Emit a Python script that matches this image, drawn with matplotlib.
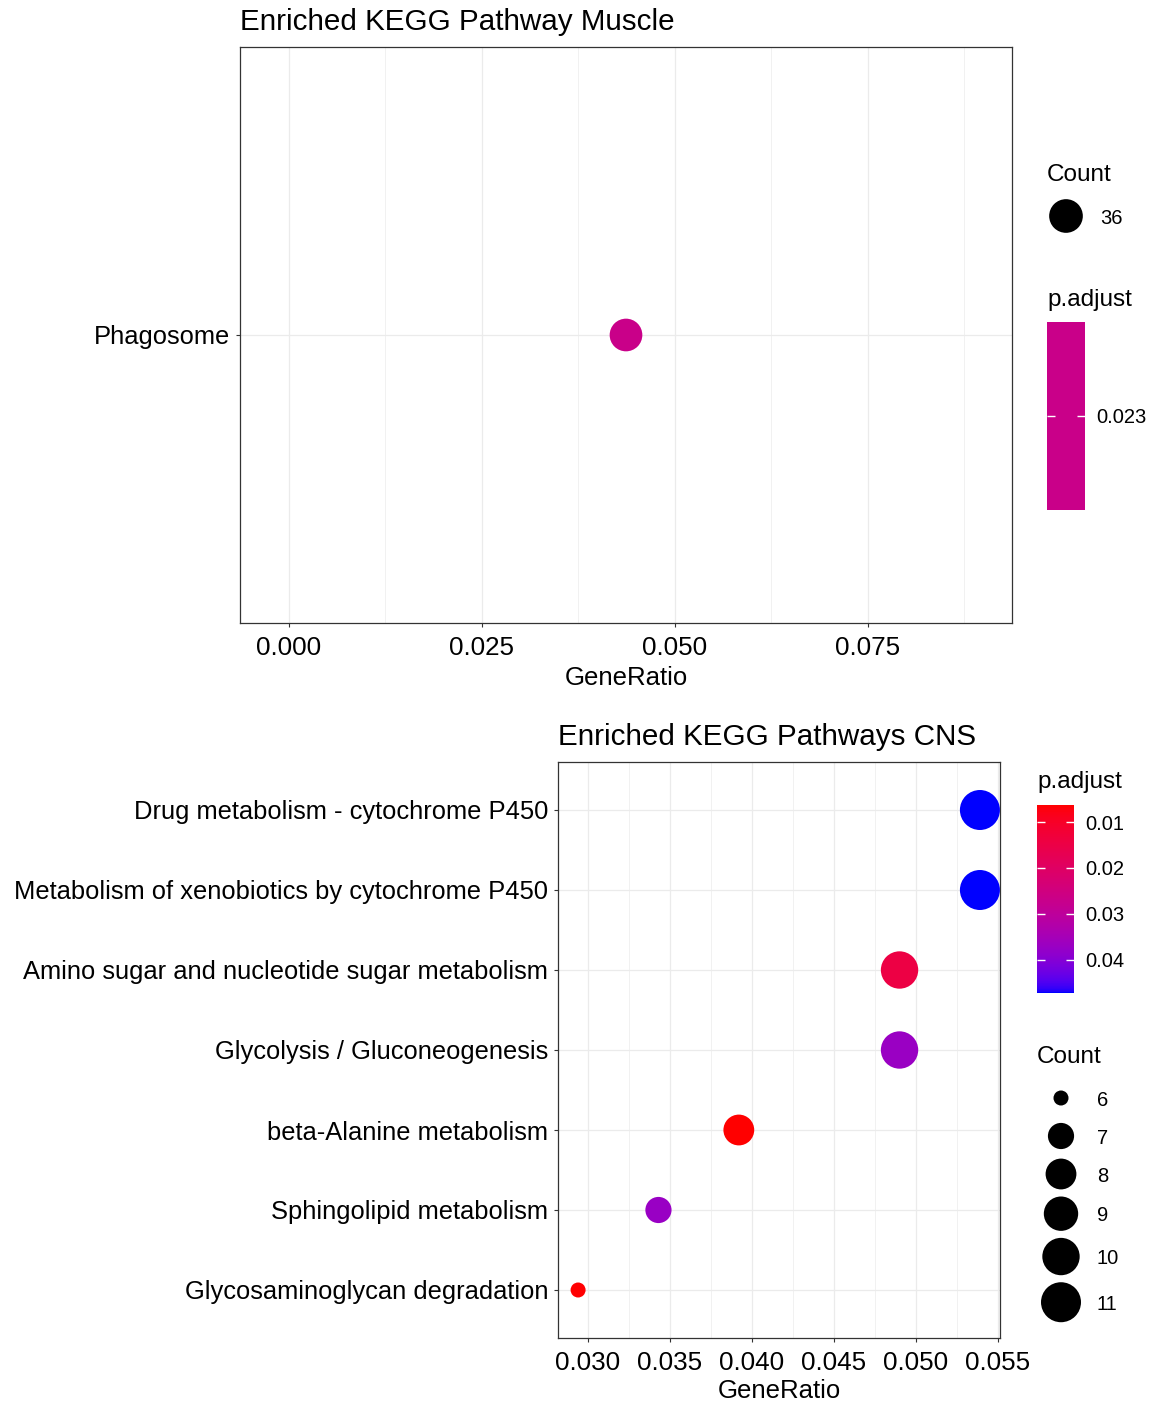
import numpy as np
import matplotlib
matplotlib.use("Agg")
import matplotlib.pyplot as plt
from matplotlib.colors import ListedColormap, Normalize
from matplotlib.cm import ScalarMappable
from matplotlib.ticker import MultipleLocator

plt.rcParams['font.family'] = ['Liberation Sans', 'DejaVu Sans']

# ---- data: muscle ----
muscle_terms = ["Phagosome"]
muscle_ratio = [0.0437]
muscle_count = [36]
muscle_padj = [0.023]

# ---- data: CNS (top to bottom) ----
cns_terms = ["Drug metabolism - cytochrome P450",
             "Metabolism of xenobiotics by cytochrome P450",
             "Amino sugar and nucleotide sugar metabolism",
             "Glycolysis / Gluconeogenesis",
             "beta-Alanine metabolism",
             "Sphingolipid metabolism",
             "Glycosaminoglycan degradation"]
cns_ratio = [0.0539, 0.0539, 0.0490, 0.0490, 0.0392, 0.0343, 0.0294]
cns_count = [11, 11, 10, 10, 8, 7, 6]
cns_padj = [0.0472, 0.0472, 0.0145, 0.0370, 0.0063, 0.0372, 0.0066]
cns_count_legend = [6, 7, 8, 9, 10, 11]
cns_padj_ticks = [0.01, 0.02, 0.03, 0.04]

W, H, DPI = 1158, 1408, 100
GRID = "#EBEBEB"
DARK = "#333333"


# red -> blue ramp interpolated in CIELAB, like ggplot's gradient
def srgb_to_lab(rgb):
    c = np.asarray(rgb, float)
    lin = np.where(c <= 0.04045, c / 12.92, ((c + 0.055) / 1.055) ** 2.4)
    M = np.array([[0.4124564, 0.3575761, 0.1804375],
                  [0.2126729, 0.7151522, 0.0721750],
                  [0.0193339, 0.1191920, 0.9503041]])
    xyz = M @ lin / np.array([0.95047, 1.0, 1.08883])
    d = 6 / 29
    f = np.where(xyz > d ** 3, np.cbrt(xyz), xyz / (3 * d * d) + 4 / 29)
    return np.array([116 * f[1] - 16, 500 * (f[0] - f[1]), 200 * (f[1] - f[2])])


def lab_to_srgb(lab):
    L, a, b = lab
    fy = (L + 16) / 116
    fx = fy + a / 500
    fz = fy - b / 200
    d = 6 / 29
    fs = np.array([fx, fy, fz])
    xyz = np.where(fs > d, fs ** 3, 3 * d * d * (fs - 4 / 29))
    xyz = xyz * np.array([0.95047, 1.0, 1.08883])
    Minv = np.array([[3.2404542, -1.5371385, -0.4985314],
                     [-0.9692660, 1.8760108, 0.0415560],
                     [0.0556434, -0.2040259, 1.0572252]])
    lin = np.clip(Minv @ xyz, 0, 1)
    c = np.where(lin <= 0.0031308, 12.92 * lin, 1.055 * lin ** (1 / 2.4) - 0.055)
    return np.clip(c, 0, 1)


lab_lo = srgb_to_lab([1, 0, 0])
lab_hi = srgb_to_lab([0, 0, 1])
ramp = [lab_to_srgb(lab_lo + t * (lab_hi - lab_lo)) for t in np.linspace(0, 1, 256)]
cmap = ListedColormap(ramp)


def px_d(count, cmin, cmax):
    # ggplot scale_size(range=c(3, 8)) area palette, ~5 px per mm
    if cmax == cmin:
        r = 0.5
    else:
        r = (count - cmin) / (cmax - cmin)
    return 5 * (3 + 5 * np.sqrt(r))


def pts_area(d_px):
    return (d_px * 72 / DPI) ** 2


def style_panel(ax):
    ax.set_facecolor("white")
    for s in ax.spines.values():
        s.set_color(DARK)
        s.set_linewidth(0.9)
    ax.grid(which="major", color=GRID, linewidth=0.9)
    ax.grid(which="minor", axis="x", color=GRID, linewidth=0.5)
    ax.set_axisbelow(True)
    ax.tick_params(which="major", length=3, width=0.8, color=DARK,
                   labelsize=18.7, labelcolor="black", pad=4)
    ax.tick_params(axis="y", which="major", labelsize=18.4)
    ax.tick_params(axis="x", which="major", pad=6.5)
    ax.tick_params(which="minor", length=0)


def make_cbar(fig, rect, cm, norm, ticks, labels):
    cax = fig.add_axes(rect)
    cb = fig.colorbar(ScalarMappable(norm=norm, cmap=cm), cax=cax)
    cb.outline.set_visible(False)
    cb.set_ticks(ticks)
    cb.set_ticklabels(labels)
    cax.invert_yaxis()
    cax.yaxis.set_ticks_position("both")
    cax.tick_params(axis="y", direction="in", color="white", length=5.5,
                    width=1.0, labelsize=14.5, labelcolor="black", pad=8,
                    labelleft=False, labelright=True)
    return cb


def fx(x):
    return x / W


def fy(y):
    return 1 - y / H


fig = plt.figure(figsize=(W / DPI, H / DPI), dpi=DPI)

# ---------------- top panel: Muscle ----------------
ax1 = fig.add_axes([fx(240), fy(623), (1012 - 240) / W, 576 / H])
style_panel(ax1)
m_norm = Normalize(muscle_padj[0] - 0.001, muscle_padj[0] + 0.001)
m_col = cmap(0.5)
m_cmap = ListedColormap([m_col])
ax1.scatter(muscle_ratio, [0], s=[pts_area(px_d(c, min(muscle_count), max(muscle_count)))
                                   for c in muscle_count],
            color=m_col, edgecolors="none", zorder=3)
ax1.set_yticks([0])
ax1.set_yticklabels(muscle_terms)
ax1.set_ylim(-0.6, 0.6)
ax1.set_xlim(muscle_ratio[0] - 0.05, muscle_ratio[0] + 0.05)
ax1.xaxis.set_major_locator(MultipleLocator(0.025))
ax1.xaxis.set_minor_locator(MultipleLocator(0.0125))
ax1.xaxis.set_major_formatter(lambda v, p: f"{v:.3f}")
ax1.set_xlabel("GeneRatio", fontsize=18.5, labelpad=4)
ax1.set_title("Enriched KEGG Pathway Muscle", loc="left", fontsize=21.3, pad=12.5)

make_cbar(fig, [fx(1047), fy(510), 38 / W, 188 / H], m_cmap, m_norm,
          muscle_padj, [f"{v:.3f}" for v in muscle_padj])

# ---------------- bottom panel: CNS ----------------
ax2 = fig.add_axes([fx(558), fy(1338), (1000 - 558) / W, 576 / H])
style_panel(ax2)
n = len(cns_terms)
ypos = np.arange(n)[::-1]
c_norm = Normalize(min(cns_padj), max(cns_padj))
ax2.scatter(cns_ratio, ypos,
            s=[pts_area(px_d(c, min(cns_count), max(cns_count))) for c in cns_count],
            c=cns_padj, cmap=cmap, norm=c_norm, edgecolors="none", zorder=3)
ax2.set_yticks(ypos)
ax2.set_yticklabels(cns_terms)
ax2.set_ylim(-0.6, n - 0.4)
span = max(cns_ratio) - min(cns_ratio)
ax2.set_xlim(min(cns_ratio) - 0.05 * span, max(cns_ratio) + 0.05 * span)
ax2.xaxis.set_major_locator(MultipleLocator(0.005))
ax2.xaxis.set_minor_locator(MultipleLocator(0.0025))
ax2.xaxis.set_major_formatter(lambda v, p: f"{v:.3f}")
ax2.set_xlabel("GeneRatio", fontsize=18.5, labelpad=3)
ax2.set_title("Enriched KEGG Pathways CNS", loc="left", fontsize=21.3, pad=12.5)

make_cbar(fig, [fx(1037), fy(993), 37 / W, 188 / H], cmap, c_norm,
          cns_padj_ticks, [f"{v:.2f}" for v in cns_padj_ticks])

# ---------------- legends (size keys + titles) ----------------
lg = fig.add_axes([0, 0, 1, 1])
lg.set_xlim(0, W)
lg.set_ylim(H, 0)
lg.axis("off")

lg.text(1047, 175, "Count", fontsize=17.5, va="center", ha="left")
lg.text(1047, 300, "p.adjust", fontsize=17.5, va="center", ha="left")
lg.scatter([1066], [216], s=pts_area(px_d(muscle_count[0], 0, 0) + 1),
           color="black", edgecolors="none")
lg.text(1100, 218, str(muscle_count[0]), fontsize=14.5, va="center", ha="left")

lg.text(1037, 782, "p.adjust", fontsize=17.5, va="center", ha="left")
lg.text(1037, 1057, "Count", fontsize=17.5, va="center", ha="left")
yc = 1098
prev_h = None
for c in cns_count_legend:
    d = px_d(c, min(cns_count), max(cns_count))
    kh = max(d + 7, 38)
    if prev_h is not None:
        yc += (prev_h + kh) / 2
    prev_h = kh
    lg.scatter([1061], [yc], s=pts_area(d), color="black", edgecolors="none")
    lg.text(1097, yc + 2, str(c), fontsize=14.5, va="center", ha="left")

fig.savefig("out.png", dpi=DPI, facecolor="white")
